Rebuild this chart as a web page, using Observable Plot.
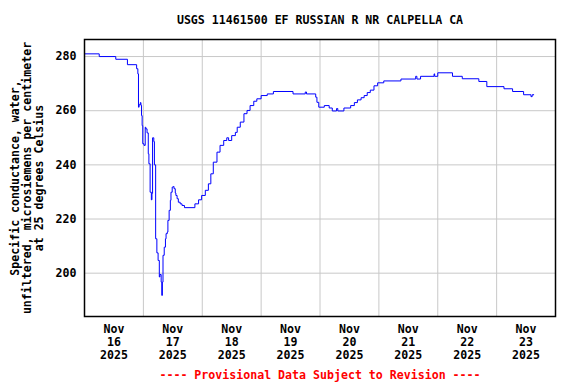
<!DOCTYPE html>
<html>
<head>
<meta charset="utf-8">
<script src="https://cdn.jsdelivr.net/npm/d3@7"></script>
<script src="https://cdn.jsdelivr.net/npm/@observablehq/plot@0.6"></script>
<style>
  html, body { margin: 0; padding: 0; background: white; }
</style>
</head>
<body>
<div id="chart"></div>
<script>
const title = "USGS 11461500 EF RUSSIAN R NR CALPELLA CA";
const yLabel = "Specific conductance, water,\nunfiltered, microsiemens per centimeter\nat 25 degrees Celsius";
const footer = "---- Provisional Data Subject to Revision ----";

// Observation times and specific conductance values
const times = [
  "2025-11-16T00:00", "2025-11-16T06:00", "2025-11-16T12:45", "2025-11-16T17:30",
  "2025-11-16T21:15", "2025-11-16T21:45", "2025-11-16T22:00", "2025-11-16T22:15",
  "2025-11-16T22:45", "2025-11-16T23:00", "2025-11-16T23:15", "2025-11-16T23:30",
  "2025-11-16T23:45", "2025-11-17T00:15", "2025-11-17T00:45", "2025-11-17T01:00",
  "2025-11-17T01:30", "2025-11-17T02:00", "2025-11-17T02:15", "2025-11-17T02:45",
  "2025-11-17T03:15", "2025-11-17T03:30", "2025-11-17T03:45", "2025-11-17T04:15",
  "2025-11-17T04:30", "2025-11-17T05:00", "2025-11-17T05:30", "2025-11-17T06:00",
  "2025-11-17T06:30", "2025-11-17T06:45", "2025-11-17T07:15", "2025-11-17T07:30",
  "2025-11-17T07:45", "2025-11-17T08:00", "2025-11-17T08:30", "2025-11-17T09:00",
  "2025-11-17T09:15", "2025-11-17T09:45", "2025-11-17T10:00", "2025-11-17T10:30",
  "2025-11-17T11:00", "2025-11-17T11:15", "2025-11-17T11:45", "2025-11-17T12:15",
  "2025-11-17T12:30", "2025-11-17T13:00", "2025-11-17T13:15", "2025-11-17T13:45",
  "2025-11-17T14:15", "2025-11-17T15:00", "2025-11-17T15:45", "2025-11-17T16:45",
  "2025-11-17T21:00", "2025-11-17T22:30", "2025-11-17T23:45", "2025-11-18T01:15",
  "2025-11-18T02:30", "2025-11-18T03:30", "2025-11-18T04:30", "2025-11-18T06:00",
  "2025-11-18T07:15", "2025-11-18T08:45", "2025-11-18T10:00", "2025-11-18T10:45",
  "2025-11-18T12:00", "2025-11-18T13:30", "2025-11-18T14:15", "2025-11-18T15:30",
  "2025-11-18T17:00", "2025-11-18T18:15", "2025-11-18T19:30", "2025-11-18T21:00",
  "2025-11-18T22:15", "2025-11-19T00:00", "2025-11-19T02:30", "2025-11-19T05:00",
  "2025-11-19T13:00", "2025-11-19T18:00", "2025-11-19T18:30", "2025-11-19T22:15",
  "2025-11-19T22:45", "2025-11-19T23:30", "2025-11-20T01:45", "2025-11-20T03:45",
  "2025-11-20T05:00", "2025-11-20T06:45", "2025-11-20T07:15", "2025-11-20T09:45",
  "2025-11-20T12:30", "2025-11-20T14:00", "2025-11-20T15:15", "2025-11-20T16:45",
  "2025-11-20T18:00", "2025-11-20T19:15", "2025-11-20T20:30", "2025-11-20T22:00",
  "2025-11-20T23:30", "2025-11-21T02:00", "2025-11-21T09:00", "2025-11-21T15:00",
  "2025-11-21T15:30", "2025-11-21T17:00", "2025-11-21T22:30", "2025-11-21T22:45",
  "2025-11-22T00:00", "2025-11-22T06:00", "2025-11-22T10:00", "2025-11-22T16:45",
  "2025-11-22T20:00", "2025-11-23T03:00", "2025-11-23T06:30", "2025-11-23T11:00",
  "2025-11-23T14:00", "2025-11-23T14:30", "2025-11-23T15:15"
];
const values = [
  281.0, 280.0, 279.0, 277.0,
  275.5, 273.6, 261.3, 262.2,
  263.0, 262.0, 258.2, 254.5,
  247.8, 247.2, 253.9, 253.3,
  251.8, 244.1, 240.4, 229.9,
  227.1, 229.5, 250.0, 248.6,
  240.0, 212.7, 207.5, 204.7,
  198.6, 199.5, 196.7, 191.8,
  196.7, 206.6, 209.6, 212.7,
  214.6, 215.2, 219.5, 223.2,
  226.9, 229.9, 231.8, 232.0,
  231.2, 229.6, 228.7, 227.5,
  226.2, 225.6, 225.0, 224.2,
  225.6, 227.1, 228.7, 230.6,
  233.0, 236.7, 241.0, 244.7,
  247.2, 249.0, 250.0, 249.0,
  250.8, 252.0, 253.9, 255.8,
  258.9, 260.1, 261.9, 263.5,
  264.4, 265.6, 266.2, 267.1,
  266.2, 266.9, 266.2, 265.0,
  263.1, 261.3, 261.9, 261.0,
  259.9, 260.8, 259.9, 261.0,
  261.9, 263.0, 264.0, 264.8,
  265.6, 266.7, 267.6, 269.2,
  270.3, 271.0, 271.7, 272.7,
  271.7, 272.7, 273.6, 272.7,
  274.0, 272.7, 271.8, 270.8,
  268.9, 268.1, 267.1, 265.9,
  265.2, 265.9, 265.9
];

const yTicks = [200, 220, 240, 260, 280];
const dayLabels = ["2025-11-16", "2025-11-17", "2025-11-18", "2025-11-19",
                   "2025-11-20", "2025-11-21", "2025-11-22", "2025-11-23"];
const gridDays = ["2025-11-17", "2025-11-18", "2025-11-19", "2025-11-20",
                  "2025-11-21", "2025-11-22", "2025-11-23"];

const data = times.map((t, i) => ({t: new Date(t + "Z"), v: values[i]}));
const noons = dayLabels.map(d => new Date(d + "T12:00Z"));
const midnights = gridDays.map(d => new Date(d + "T00:00Z"));
const fmt = d3.utcFormat("%b\n%-d\n%Y");

const font = "DejaVu Sans Mono";

const chart = Plot.plot({
  width: 576,
  height: 384,
  marginLeft: 84,
  marginRight: 21,
  marginTop: 39,
  marginBottom: 68,
  style: {fontFamily: font, fontWeight: "bold", fontSize: "11.6px", color: "black", background: "white", overflow: "visible"},
  x: {type: "utc", domain: [new Date("2025-11-16T00:00Z"), new Date("2025-11-24T00:00Z")]},
  y: {domain: [184, 286.3]},
  marks: [
    Plot.ruleX(midnights, {stroke: "#c8c8c8", strokeWidth: 1}),
    Plot.ruleY(yTicks, {stroke: "#c8c8c8", strokeWidth: 1}),
    Plot.line(data, {x: "t", y: "v", stroke: "#0000ff", strokeWidth: 1, curve: "step-after"}),
    Plot.frame({stroke: "black", strokeWidth: 1.5}),
    Plot.axisY(yTicks, {tickSize: 0, tickPadding: 8, label: null, fontWeight: "bold"}),
    Plot.axisX(noons, {tickSize: 0, tickPadding: 7, label: null, tickFormat: fmt, lineHeight: 1.12, fontWeight: "bold"}),
    Plot.text([title], {frameAnchor: "top", dy: -19, lineAnchor: "middle", fontWeight: "bold"}),
    Plot.text([yLabel], {frameAnchor: "left", dx: -57, rotate: -90, textAnchor: "middle", lineAnchor: "middle", lineHeight: 1.03, fontWeight: "bold"}),
    Plot.text([footer], {frameAnchor: "bottom", dy: 59, lineAnchor: "middle", fill: "red", fontWeight: "bold"})
  ]
});
document.getElementById("chart").appendChild(chart);
</script>
</body>
</html>
